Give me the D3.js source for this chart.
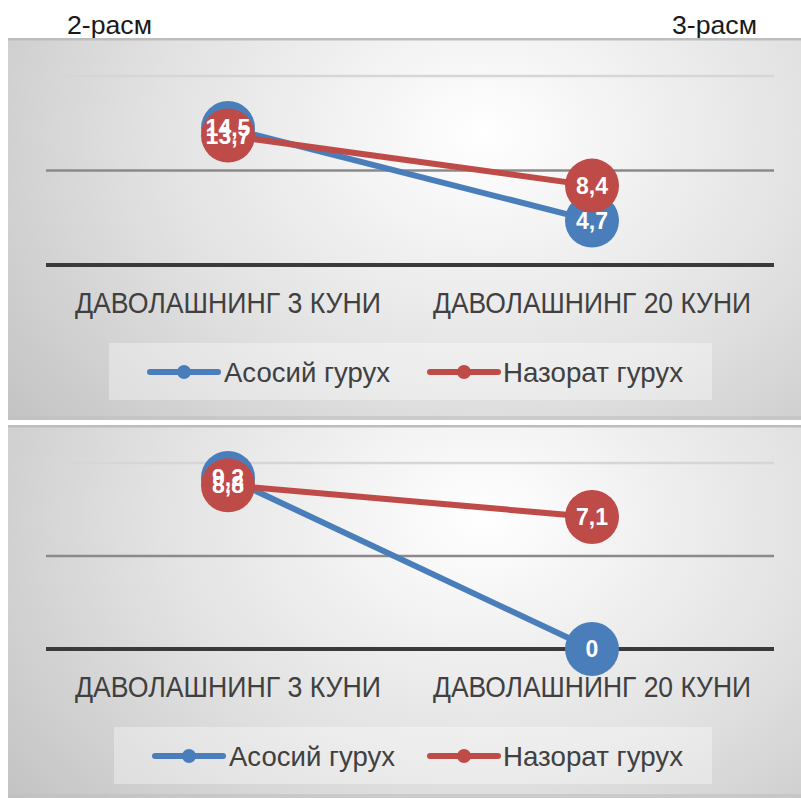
<!DOCTYPE html>
<html><head><meta charset="utf-8">
<script src="https://cdn.jsdelivr.net/npm/d3@7"></script>
<style>body{margin:0;background:#fff}svg{display:block}</style>
</head><body>
<svg id="c" width="801" height="798"></svg>
<script>
const categories = ["ДАВОЛАШНИНГ 3 КУНИ", "ДАВОЛАШНИНГ 20 КУНИ"];
const seriesNames = ["Асосий гурух", "Назорат гурух"];
const seriesColors = ["#4a7ebb", "#be4b48"];
const chartTitles = ["2-расм", "3-расм"];
const chart2Main = [14.5, 4.7];
const chart2Control = [13.7, 8.4];
const chart3Main = [9.2, 0];
const chart3Control = [8.8, 7.1];
const ticks2 = [0, 10, 20];
const ticks3 = [0, 5, 10];

const svg = d3.select("#c");
const defs = svg.append("defs");
const grad = defs.append("radialGradient").attr("id", "bg")
  .attr("cx", "0.6").attr("cy", "0.25").attr("r", "0.75")
  .attr("gradientTransform", "translate(0.6,0.25) scale(1,1.6) translate(-0.6,-0.25)");
grad.append("stop").attr("offset", "0").attr("stop-color", "#ffffff");
grad.append("stop").attr("offset", "0.55").attr("stop-color", "#e2e2e2");
grad.append("stop").attr("offset", "1").attr("stop-color", "#c4c4c4");

const fmt = v => d3.format(".1~f")(v).replace(".", ",");

// titles
svg.append("text").attr("x", 67).attr("y", 34).text(chartTitles[0])
  .attr("font-family", "Liberation Sans, Arial, sans-serif").attr("font-size", 26).attr("fill", "#1a1a1a")
  .attr("textLength", 85).attr("lengthAdjust", "spacingAndGlyphs");
svg.append("text").attr("x", 672).attr("y", 34).text(chartTitles[1])
  .attr("font-family", "Liberation Sans, Arial, sans-serif").attr("font-size", 26).attr("fill", "#1a1a1a")
  .attr("textLength", 85).attr("lengthAdjust", "spacingAndGlyphs");

function drawChart(cfg) {
  const g = svg.append("g");
  // panel
  g.append("rect").attr("x", 8).attr("y", cfg.top).attr("width", 793).attr("height", cfg.h).attr("fill", "url(#bg)");
  g.append("rect").attr("x", 8).attr("y", cfg.top).attr("width", 793).attr("height", 2.5).attr("fill", "#bdbdbd");
  g.append("rect").attr("x", 8).attr("y", cfg.top + cfg.h - 4).attr("width", 793).attr("height", 4).attr("fill", "#c0c0c0").attr("opacity", 0.6);

  const x = d3.scalePoint().domain(categories).range([46, 774]).padding(0.5);
  const y = d3.scaleLinear().domain([cfg.ticks[0], cfg.ticks[cfg.ticks.length - 1]]).range([cfg.y0, cfg.y1]);

  // gridlines
  const gridStyles = [{c: "#3a3a3a", w: 4}, {c: "#8a8a8a", w: 2.5}, {c: "#d6d6d6", w: 2.5}];
  cfg.ticks.forEach((t, i) => {
    g.append("line").attr("x1", 46).attr("x2", 774).attr("y1", y(t)).attr("y2", y(t))
      .attr("stroke", gridStyles[i].c).attr("stroke-width", gridStyles[i].w);
  });

  // category labels
  g.selectAll(".cat").data(categories).enter().append("text")
    .attr("x", d => x(d)).attr("y", cfg.y0 + 48).attr("text-anchor", "middle")
    .attr("font-family", "Liberation Sans Narrow, Arial Narrow, Liberation Sans, sans-serif")
    .attr("font-size", 29).attr("fill", "#404040")
    .attr("textLength", (d, i) => i === 0 ? 306 : 318).attr("lengthAdjust", "spacingAndGlyphs")
    .text(d => d);

  const series = [cfg.main, cfg.control];
  const line = d3.line().x((d, i) => x(categories[i])).y(d => y(d));
  series.forEach((vals, s) => {
    g.append("path").attr("d", line(vals)).attr("fill", "none")
      .attr("stroke", seriesColors[s]).attr("stroke-width", 6).attr("stroke-linecap", "round");
  });
  series.forEach((vals, s) => {
    g.selectAll(".pt" + s).data(vals).enter().append("circle")
      .attr("cx", (d, i) => x(categories[i])).attr("cy", d => y(d)).attr("r", 27)
      .attr("fill", seriesColors[s]);
  });
  series.forEach((vals, s) => {
    g.selectAll(".lb" + s).data(vals).enter().append("text")
      .attr("x", (d, i) => x(categories[i])).attr("y", d => y(d) + 8)
      .attr("text-anchor", "middle").attr("font-family", "Liberation Sans, Arial, sans-serif")
      .attr("font-weight", "bold").attr("font-size", 23).attr("fill", "#fff")
      .text(d => fmt(d));
  });

  // legend
  const lg = g.append("g");
  lg.append("rect").attr("x", cfg.legX).attr("y", cfg.legY).attr("width", 712 - cfg.legX).attr("height", 57)
    .attr("fill", "#ffffff").attr("opacity", 0.35);
  const items = [{x0: cfg.legX + 41, tx: cfg.legX + 115}, {x0: 430, tx: 503}];
  items.forEach((it, s) => {
    const cy = cfg.legY + 29;
    lg.append("line").attr("x1", it.x0).attr("x2", it.x0 + 68).attr("y1", cy).attr("y2", cy)
      .attr("stroke", seriesColors[s]).attr("stroke-width", 6).attr("stroke-linecap", "round");
    lg.append("circle").attr("cx", it.x0 + 34).attr("cy", cy).attr("r", 7).attr("fill", seriesColors[s]);
    lg.append("text").attr("x", it.tx).attr("y", cy + 10)
      .attr("font-family", "Liberation Sans Narrow, Arial Narrow, Liberation Sans, sans-serif")
      .attr("font-size", 28).attr("fill", "#404040")
      .attr("textLength", s === 0 ? 166 : 180).attr("lengthAdjust", "spacingAndGlyphs")
      .text(seriesNames[s]);
  });
}

drawChart({top: 38, h: 382, y0: 265, y1: 76, ticks: ticks2, main: chart2Main, control: chart2Control, legX: 109, legY: 343});
drawChart({top: 425, h: 373, y0: 649, y1: 463, ticks: ticks3, main: chart3Main, control: chart3Control, legX: 114, legY: 727});
</script>
</body></html>
